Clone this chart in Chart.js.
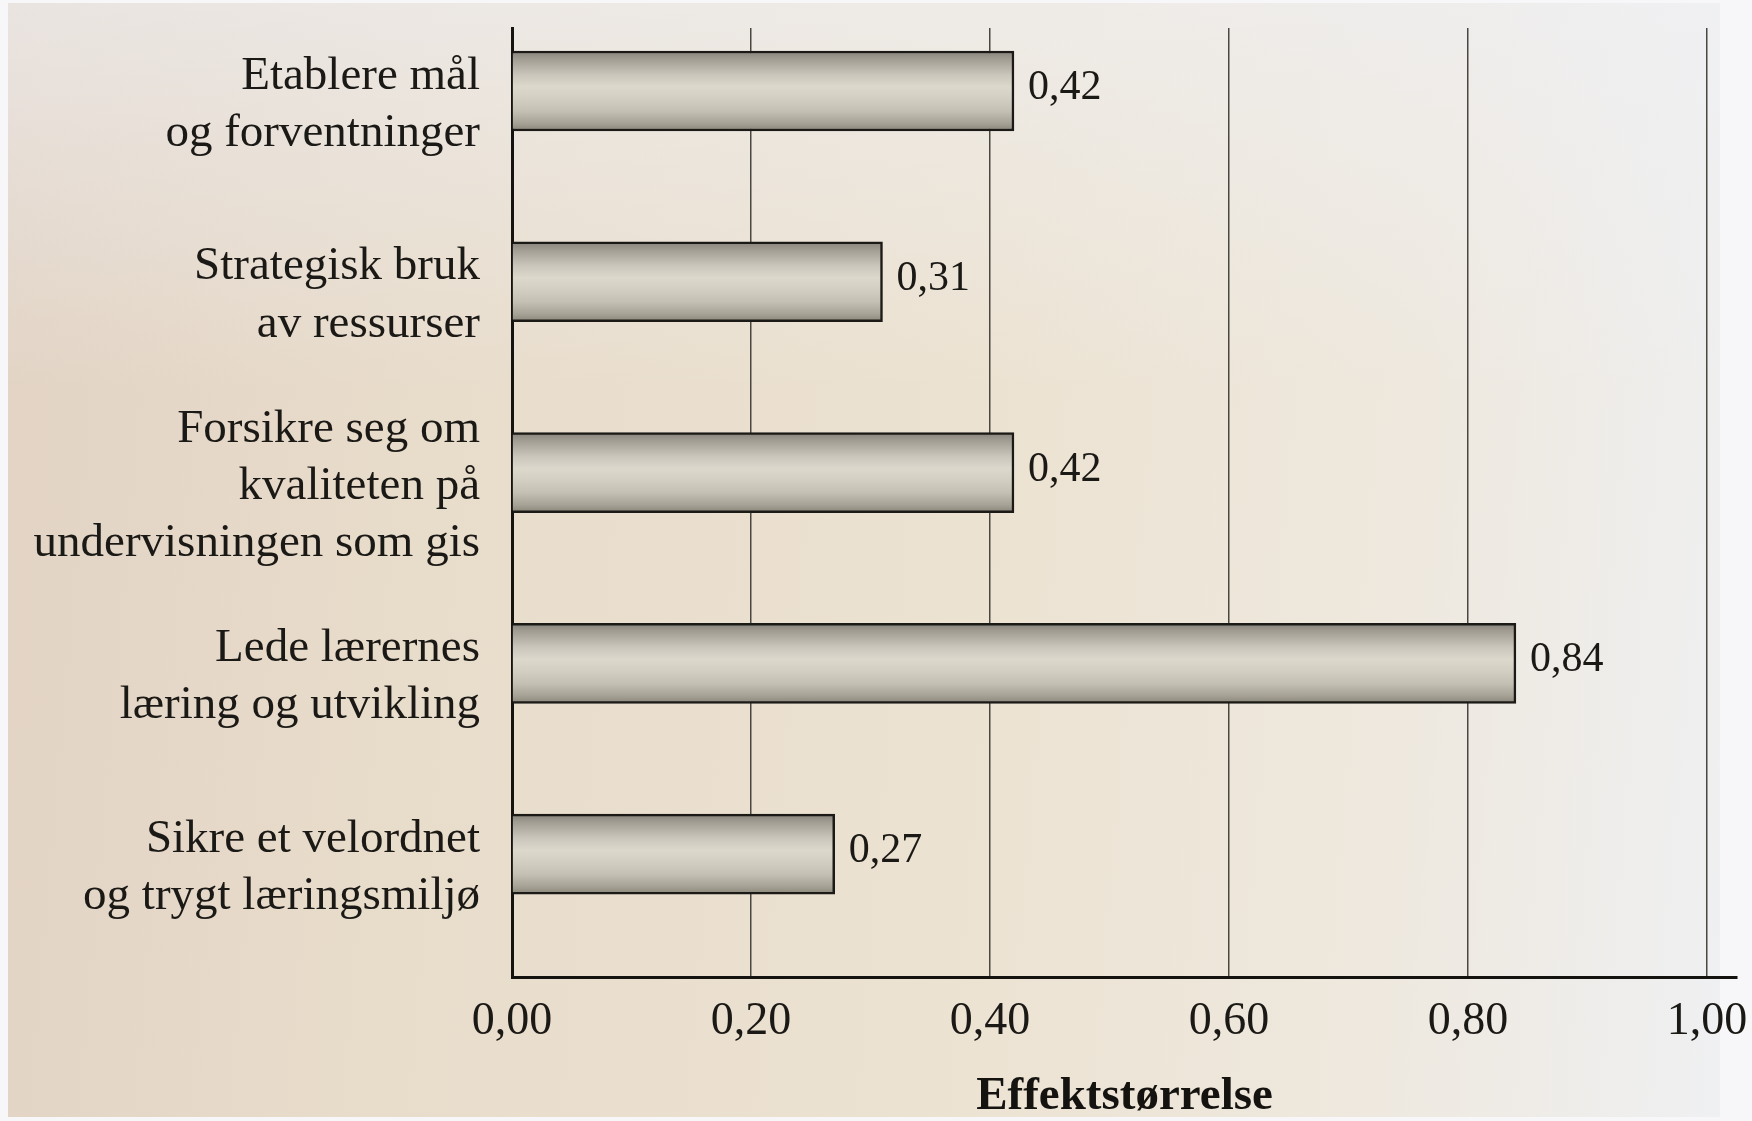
<!DOCTYPE html>
<html><head><meta charset="utf-8">
<script src="https://cdn.jsdelivr.net/npm/chart.js@4.4.0/dist/chart.umd.min.js"></script>
<style>
html,body{margin:0;padding:0;width:1752px;height:1121px;overflow:hidden;background:#f7f7f9;}
#paper{position:absolute;left:8px;top:3px;width:1712px;height:1114px;
 background:
  linear-gradient(180deg, rgba(240,242,248,0.55) 0%, rgba(240,242,248,0) 35%),
  linear-gradient(95deg, #e2d3c4 0%, #e8dccb 25%, #ece2d1 55%, #eee8de 80%, #eff0f2 100%);}
#wrap{position:absolute;left:0;top:0;width:1752px;height:1121px;}
</style></head><body>
<div id="paper"></div>
<div id="wrap"><canvas id="c" width="1752" height="1121"></canvas></div>
<script>
const categories = [
  ["Etablere mål", "og forventninger"],
  ["Strategisk bruk", "av ressurser"],
  ["Forsikre seg om", "kvaliteten på", "undervisningen som gis"],
  ["Lede lærernes", "læring og utvikling"],
  ["Sikre et velordnet", "og trygt læringsmiljø"]
];
const values = [0.42, 0.31, 0.42, 0.84, 0.27];
const xTicks = [0, 0.2, 0.4, 0.6, 0.8, 1.0];
const xTickLabels = ["0,00", "0,20", "0,40", "0,60", "0,80", "1,00"];
const axisTitle = "Effektstørrelse";

const fmt = v => v.toFixed(2).replace('.', ',');
const SERIF = '"Liberation Serif", "Times New Roman", serif';
const INK = '#1b1916';
const BAR_T = 80;

function barGradient(c) {
  const chart = c.chart;
  const ys = chart.scales.y;
  if (!ys || c.raw == null) return '#cfcbc1';
  const cy = ys.getPixelForValue(c.raw.y);
  const top = cy - BAR_T / 2, bot = cy + BAR_T / 2;
  if (!isFinite(top)) return '#cfcbc1';
  const g = chart.ctx.createLinearGradient(0, top, 0, bot);
  g.addColorStop(0.00, '#86827a');
  g.addColorStop(0.10, '#a19d93');
  g.addColorStop(0.30, '#cac6bb');
  g.addColorStop(0.45, '#dcd8cc');
  g.addColorStop(0.60, '#d2cec2');
  g.addColorStop(0.75, '#c4c0b4');
  g.addColorStop(0.90, '#a8a397');
  g.addColorStop(1.00, '#8a8579');
  return g;
}

const valueLabels = {
  id: 'valueLabels',
  afterDatasetsDraw(chart) {
    const ctx = chart.ctx;
    ctx.save();
    ctx.font = '42px ' + SERIF;
    ctx.fillStyle = INK;
    ctx.textAlign = 'left';
    ctx.textBaseline = 'middle';
    chart.getDatasetMeta(0).data.forEach((el, i) => {
      const p = el.getProps(['x', 'y'], true);
      ctx.fillText(fmt(values[i]), p.x + 14, p.y - 3);
    });
    ctx.restore();
  }
};

new Chart(document.getElementById('c'), {
  type: 'bar',
  data: {
    datasets: [{
      data: values.map((v, i) => ({ x: v, y: i })),
      backgroundColor: barGradient,
      borderColor: '#1b1a17',
      borderWidth: 2.5,
      barThickness: BAR_T
    }]
  },
  options: {
    indexAxis: 'y',
    responsive: false,
    animation: false,
    layout: { padding: { top: 28, right: 15, left: 0, bottom: 0 } },
    plugins: { legend: { display: false }, tooltip: { enabled: false } },
    scales: {
      x: {
        type: 'linear', min: 0, max: 1.025, bounds: 'data', position: 'bottom', offset: false,
        afterBuildTicks(s) { s.ticks = xTicks.map(v => ({ value: v })); },
        afterFit(s) { s.height = 144; s.paddingLeft = 0; s.paddingRight = 0; },
        ticks: {
          callback: (v, i) => xTickLabels[i],
          font: { family: SERIF, size: 46, lineHeight: 1 },
          color: INK, padding: 22, maxRotation: 0, autoSkip: false
        },
        grid: { color: '#4a4640', lineWidth: 1.5, drawTicks: false, offset: false },
        border: { color: '#141310', width: 3 },
        title: {
          display: true, text: axisTitle, color: '#141310',
          font: { family: SERIF, size: 47, weight: 'bold', lineHeight: 1 },
          padding: { top: 20, bottom: 1 }
        }
      },
      y: {
        type: 'linear', reverse: true, min: -0.33, max: 4.644, bounds: 'data', offset: false,
        afterBuildTicks(s) { s.ticks = categories.map((c, i) => ({ value: i })); },
        afterFit(s) { s.width = 512; s.paddingTop = 0; s.paddingBottom = 0; },
        ticks: {
          callback: (v, i) => categories[i],
          font: { family: SERIF, size: 47, lineHeight: 1.22 },
          color: INK, padding: 32, labelOffset: 14, autoSkip: false
        },
        grid: { display: false, drawTicks: false, offset: false },
        border: { color: '#141310', width: 3 }
      }
    }
  },
  plugins: [valueLabels]
});
</script>
</body></html>
